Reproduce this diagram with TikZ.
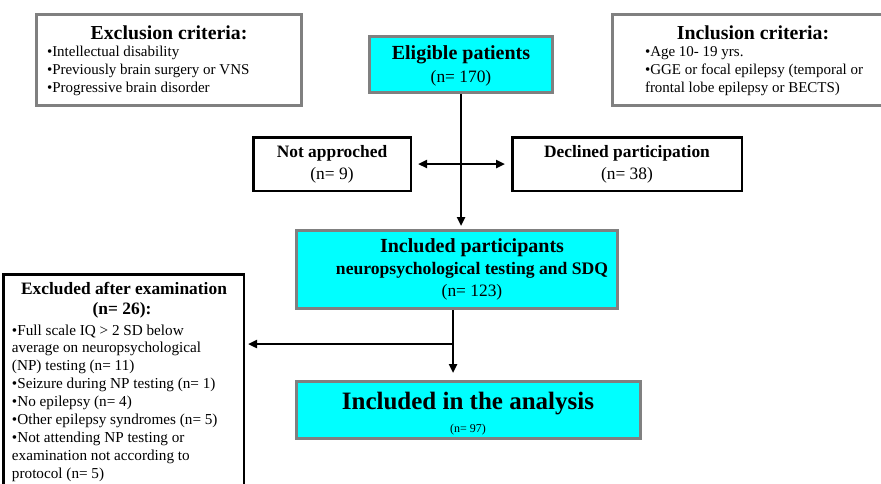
\documentclass[tikz,border=0pt]{standalone}
\usepackage{fontspec}
\setmainfont{Liberation Serif}
\usetikzlibrary{arrows.meta}
\definecolor{boxgray}{RGB}{128,128,128}
\definecolor{boxcyan}{RGB}{0,255,255}
\newcommand\fHead{\fontsize{19.8}{22}\selectfont\bfseries}
\newcommand\fBody{\fontsize{15}{18}\selectfont}
\newcommand\fMid{\fontsize{17.4}{20}\selectfont}
\newcommand\fMidB{\fontsize{17.4}{20}\selectfont\bfseries}
\newcommand\fBig{\fontsize{20}{23}\selectfont\bfseries}
\newcommand\fHuge{\fontsize{25}{28}\selectfont\bfseries}
\newcommand\fSmall{\fontsize{12}{14}\selectfont}
\newcommand\fList{\fontsize{15.2}{18}\selectfont}
\pgfdeclarelayer{canvas}
\pgfdeclarelayer{background}
\pgfsetlayers{canvas,background,main}
\begin{document}
\begin{tikzpicture}[x=1pt,y=-1pt,
  graybox/.style={draw=boxgray,line width=3pt,fill=white,inner sep=0pt,outer sep=0pt},
  cyanbox/.style={graybox,fill=boxcyan},
  blackbox/.style={draw=black,line width=2.5pt,fill=white,inner sep=0pt,outer sep=0pt},
  txt/.style={inner sep=0pt,outer sep=0pt,anchor=base},
  line/.style={inner sep=0pt,outer sep=0pt,anchor=base west},
  conn/.style={draw=black,line width=2.5pt},
  arr/.style={conn,-{Triangle[length=9pt,width=8pt]}},
  darr/.style={conn,{Triangle[length=9pt,width=8pt]}-{Triangle[length=9pt,width=8pt]}}]
\useasboundingbox (0,0) rectangle (881,483);
\begin{pgfonlayer}{canvas}
\fill[white] (0,0) rectangle (881,483);
\end{pgfonlayer}
\clip (0,0) rectangle (881,483);

% boxes
\node[graybox,minimum width=265pt,minimum height=91pt] (excl) at (169,60) {};
\node[graybox,minimum width=290pt,minimum height=91pt] (incl) at (757.5,60) {};
\node[cyanbox,minimum width=183pt,minimum height=56pt] (elig) at (461,64.5) {};
\node[blackbox,minimum width=157.5pt,minimum height=53.5pt] (notapp) at (332,164) {};
\node[blackbox,minimum width=229.5pt,minimum height=53.5pt] (decl) at (627,164) {};
\node[cyanbox,minimum width=321pt,minimum height=78pt] (part) at (457,269.5) {};
\node[cyanbox,minimum width=344pt,minimum height=57pt] (anal) at (468.5,410) {};
\node[blackbox,minimum width=240.5pt,minimum height=240pt] (exam) at (123.5,394.25) {};

% exclusion criteria
\node[txt,font=\fHead] (exclh) at (169,39) {Exclusion criteria:};
\foreach \t [count=\i] in {{•Intellectual disability},{•Previously brain surgery or VNS},{•Progressive brain disorder}}
  \node[line,font=\fBody] (exl\i) at (47,{56.5+18*(\i-1)}) {\t};

% inclusion criteria
\node[txt,font=\fHead] (inclh) at (753,39) {Inclusion criteria:};
\foreach \t [count=\i] in {{•Age 10- 19 yrs.},{•GGE or focal epilepsy (temporal or},{frontal lobe epilepsy or BECTS)}}
  \node[line,font=\fBody] (inl\i) at (645,{56.5+18*(\i-1)}) {\t};

% eligible
\node[txt,font=\fBig] (eligt) at (461,59) {Eligible patients};
\node[txt,font=\fMid] (eligm) at (461,82) {(n= 170)};

% not approached / declined
\node[txt,font=\fMidB] (notappt) at (332,157.5) {Not approched};
\node[txt,font=\fMid] (notappn) at (332,179) {(n= 9)};
\node[txt,font=\fMidB] (declt) at (627,157.5) {Declined participation};
\node[txt,font=\fMid] (decln) at (627,179) {(n= 38)};

% included participants
\node[txt,font=\fBig] (partt) at (472,252.5) {Included participants};
\node[txt,font=\fontsize{17.6}{20}\selectfont\bfseries] (parts) at (472,274) {neuropsychological testing and SDQ};
\node[txt,font=\fMid] (partn) at (472,296.5) {(n= 123)};

% analysis
\node[txt,font=\fHuge] (analt) at (468,409) {Included in the analysis};
\node[txt,font=\fSmall] (analn) at (468,432) {(n= 97)};

% excluded after examination
\node[txt,font=\fMidB] (examh) at (124,294) {Excluded after examination};
\node[txt,font=\fMidB] (examn) at (122,314) {(n= 26):};
\foreach \t [count=\i] in {{•Full scale IQ > 2 SD below},{average on neuropsychological},{(NP) testing (n= 11)},{•Seizure during NP testing (n= 1)},{•No epilepsy (n= 4)},{•Other epilepsy syndromes (n= 5)},{•Not attending NP testing or},{examination not according to},{protocol (n= 5)}}
  \node[line,font=\fList] (exm\i) at (12,{335+17.9*(\i-1)}) {\t};

% connectors
\begin{pgfonlayer}{background}
\draw[darr,shorten <=7.25pt,shorten >=7.25pt] (notapp.east) -- (decl.west);
\draw[arr,shorten >=4.5pt] (elig.south) -- (elig.south |- part.north);
\draw[arr,shorten >=8.5pt] ([xshift=-4pt]part.south) -- ([xshift=-4pt]part.south |- anal.north);
\path ([xshift=-4pt]part.south) ++(0,35.5) coordinate (br);
\draw[arr,shorten >=4.25pt] (br) -- (br -| exam.east);
\end{pgfonlayer}
\end{tikzpicture}
\end{document}
